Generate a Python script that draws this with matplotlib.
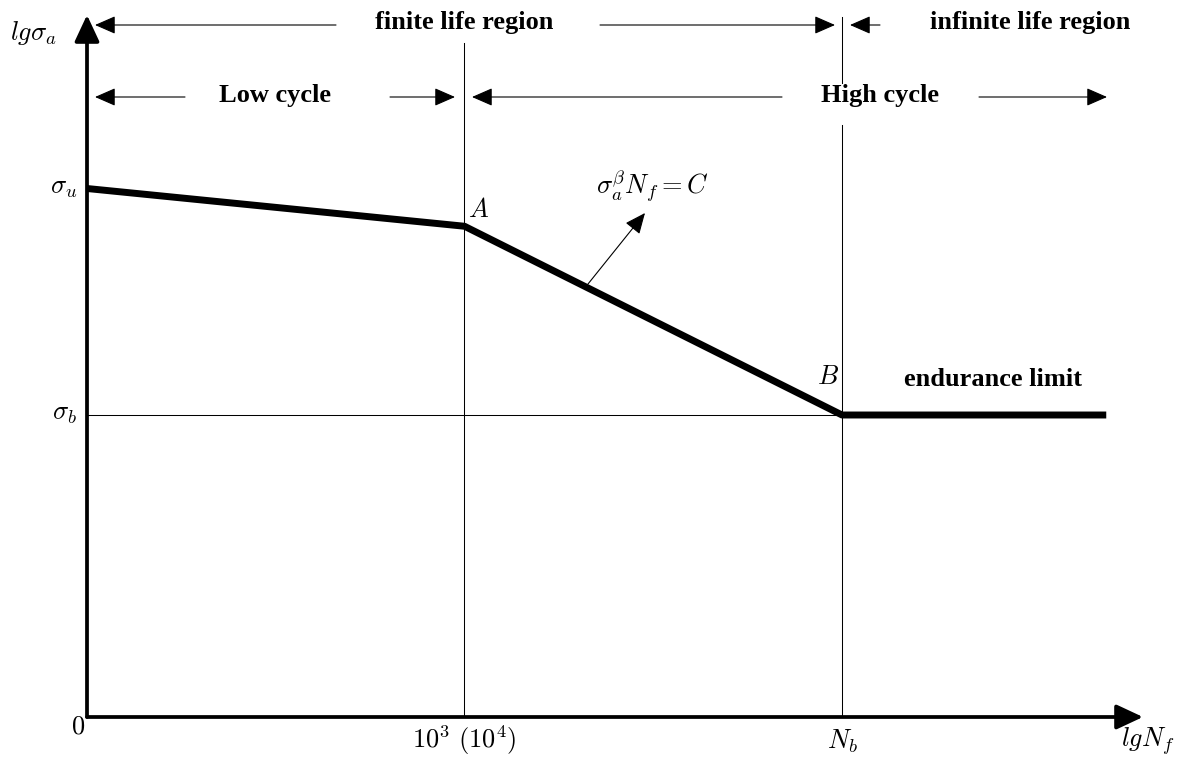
import matplotlib.pyplot as plt

plt.rcParams['mathtext.fontset'] = 'cm'
plt.rcParams['font.family'] = ['Liberation Serif', 'DejaVu Serif']

# S-N curve (log scale, schematic units)
curve_x = [0, 1.0, 2.0, 2.70]
curve_y = [1.40, 1.30, 0.80, 0.80]
x_ticks = [0, 1.0, 2.0]
x_labels = ['$0$', '$10^3\\ (10^4)$', '$N_b$']
y_ticks = [1.40, 0.80]
y_labels = ['$\\sigma_u$', '$\\sigma_b$']

PX = 377.5  # pixels per unit


def ux(px):
    return (px - 87) / PX


def uy(py):
    return (717 - py) / PX


fig = plt.figure(figsize=(11.77, 7.57), dpi=100)
ax = fig.add_axes([0, 0, 1, 1])
ax.set_xlim(ux(0), ux(1177))
ax.set_ylim(uy(757), uy(0))
ax.axis('off')

FS = 19

# axes with arrows
axis_arrow = dict(arrowstyle='-|>,head_length=0.9,head_width=0.42', lw=2.7, color='k',
                  shrinkA=0, shrinkB=0, mutation_scale=18)
ax.annotate('', xy=(ux(1143), 0), xytext=(0, 0), arrowprops=axis_arrow)
ax.annotate('', xy=(0, uy(15)), xytext=(0, 0), arrowprops=axis_arrow)

# thin guide lines
ax.plot([x_ticks[1], x_ticks[1]], [0, uy(43)], color='k', lw=0.75, zorder=1)
ax.plot([x_ticks[2], x_ticks[2]], [0, uy(125)], color='k', lw=0.75, zorder=1)
ax.plot([x_ticks[2], x_ticks[2]], [uy(83), uy(17)], color='k', lw=0.75, zorder=1)
ax.plot([0, x_ticks[2]], [curve_y[2], curve_y[2]], color='k', lw=0.75, zorder=1)

# the curve
ax.plot(curve_x, curve_y, color='k', lw=5, solid_capstyle='butt', zorder=3)

# tick labels
ax.text(ux(78), uy(728), x_labels[0], fontsize=FS, ha='center', va='center')
ax.text(x_ticks[1], uy(740), x_labels[1], fontsize=FS, ha='center', va='center')
ax.text(x_ticks[2], uy(741), x_labels[2], fontsize=FS, ha='center', va='center')
ax.text(ux(1148), uy(741), '$lgN_f$', fontsize=FS, ha='center', va='center')
for yt, yl in zip(y_ticks, y_labels):
    ax.text(ux(77), yt, yl, fontsize=FS, ha='right', va='center')
ax.text(ux(57), uy(33), '$lg\\sigma_a$', fontsize=FS, ha='right', va='center')

ax.text(ux(479), uy(210), '$A$', fontsize=FS, ha='center', va='center')
ax.text(ux(828), uy(377), '$B$', fontsize=FS, ha='center', va='center')
ax.text(ux(993), uy(379), 'endurance limit', fontsize=FS, fontweight='bold',
        ha='center', va='center')

ax.text(ux(652), uy(187), '$\\sigma_a^{\\beta}N_f = C$', fontsize=FS, ha='center', va='center')
ax.annotate('', xy=(ux(645), uy(213)), xytext=(ux(588), uy(284)),
            arrowprops=dict(arrowstyle='-|>,head_length=0.8,head_width=0.35', lw=0.8,
                            color='k', shrinkA=0, shrinkB=0, mutation_scale=16))

# region arrows: (tip, other end) in pixels
small_arrow = dict(arrowstyle='-|>,head_length=0.8,head_width=0.35', lw=0.8,
                   color='k', shrinkA=0, shrinkB=0, mutation_scale=16)


def half_arrow(tip, tail, y):
    ax.annotate('', xy=(ux(tip), uy(y)), xytext=(ux(tail), uy(y)), arrowprops=small_arrow)


y_top = 25
y_mid = 97
half_arrow(95, 336, y_top)
half_arrow(835, 600, y_top)
half_arrow(850, 880, y_top)
ax.text(ux(464), uy(22), 'finite life region', fontsize=FS, fontweight='bold',
        ha='center', va='center')
ax.text(ux(1030), uy(22), 'infinite life region', fontsize=FS, fontweight='bold',
        ha='center', va='center')

half_arrow(95, 185, y_mid)
half_arrow(455, 390, y_mid)
half_arrow(472, 782, y_mid)
half_arrow(1107, 979, y_mid)
ax.text(ux(275), uy(95), 'Low cycle', fontsize=FS, fontweight='bold', ha='center', va='center')
ax.text(ux(880), uy(95), 'High cycle', fontsize=FS, fontweight='bold', ha='center', va='center')

fig.savefig('out.png', dpi=100)
